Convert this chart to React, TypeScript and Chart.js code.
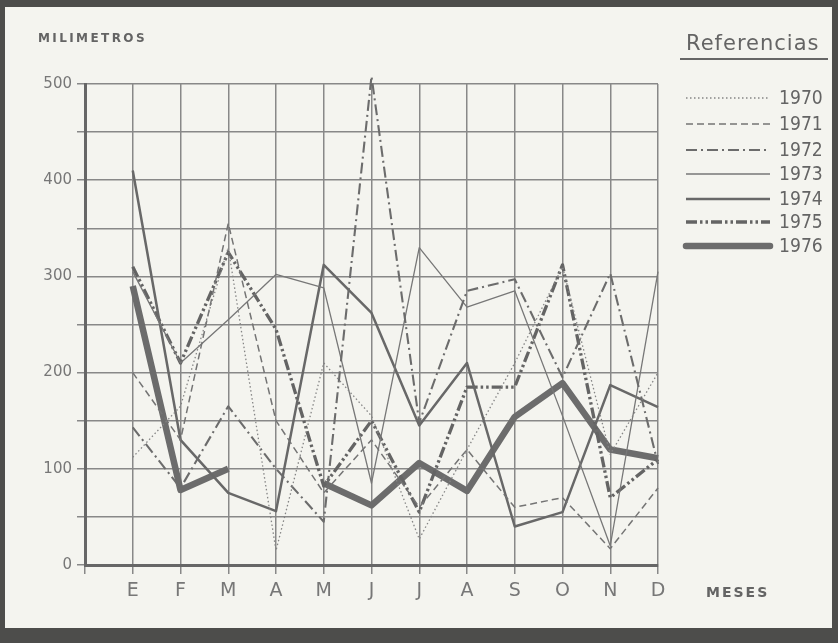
import React, { useEffect, useRef } from "react";
import { Chart, registerables } from "chart.js";

Chart.register(...registerables);

const MONTHS = ["E", "F", "M", "A", "M", "J", "J", "A", "S", "O", "N", "D"];
const Y_TICKS = [0, 100, 200, 300, 400, 500];
const YEARS = ["1970", "1971", "1972", "1973", "1974", "1975", "1976"];

const d1970 = [112, 165, 330, 15, 210, 155, 27, 120, 210, 310, 115, 200];
const d1971 = [200, 130, 355, 150, 75, 130, 60, 120, 60, 70, 17, 80];
const d1972 = [143, 80, 165, 100, 45, 508, 148, 285, 297, 195, 303, 105];
const d1973 = [305, 210, 255, 302, 288, 85, 330, 268, 285, 155, 20, 305];
const d1974 = [410, 130, 75, 56, 312, 262, 145, 210, 40, 55, 187, 164];
const d1975 = [310, 210, 325, 245, 82, 150, 55, 185, 185, 312, 70, 110];
const d1976 = [290, 78, 100, null, 85, 62, 106, 77, 154, 189, 120, 111];

const SERIES = [d1970, d1971, d1972, d1973, d1974, d1975, d1976];

const STYLES = [
  { color: "#858585", width: 1.3, dash: [1.5, 2.5] },
  { color: "#747474", width: 1.5, dash: [7, 4] },
  { color: "#6c6c6c", width: 2.1, dash: [11, 4, 2, 4] },
  { color: "#777777", width: 1.3, dash: [] },
  { color: "#686868", width: 2.5, dash: [] },
  { color: "#646464", width: 3.3, dash: [11, 3, 2.5, 3, 2.5, 3] },
  { color: "#6c6c6c", width: 6.5, dash: [] },
];

const LEGEND_Y = [98, 124, 150, 174, 199, 222, 246];
const TEXT = "#646464";

const decor = {
  id: "decor",
  beforeDraw(chart: any) {
    const { ctx, width, height } = chart;
    ctx.save();
    ctx.fillStyle = "#4d4d4b";
    ctx.fillRect(0, 0, width, height);
    ctx.fillStyle = "#f4f4ef";
    ctx.fillRect(5, 7, width - 11, height - 22);
    ctx.restore();
  },
  afterDraw(chart: any) {
    const { ctx } = chart;
    ctx.save();
    ctx.fillStyle = TEXT;
    ctx.textBaseline = "middle";
    ctx.textAlign = "left";
    ctx.font = "bold 12px 'DejaVu Sans'";
    (ctx as any).letterSpacing = "2.4px";
    ctx.fillText("MILIMETROS", 38, 39);
    ctx.font = "bold 14px 'DejaVu Sans'";
    (ctx as any).letterSpacing = "2px";
    ctx.fillText("MESES", 706, 593);
    (ctx as any).letterSpacing = "1px";
    ctx.font = "21px 'DejaVu Sans'";
    ctx.fillText("Referencias", 686, 45);
    ctx.strokeStyle = "#666";
    ctx.lineWidth = 2;
    ctx.beginPath();
    ctx.moveTo(680, 59);
    ctx.lineTo(828, 59);
    ctx.stroke();
    (ctx as any).letterSpacing = "0px";
    ctx.font = "20px 'DejaVu Sans'";
    YEARS.forEach((yr, i) => {
      const st = STYLES[i];
      const y = LEGEND_Y[i];
      ctx.strokeStyle = st.color;
      ctx.lineWidth = st.width;
      ctx.setLineDash(st.dash);
      ctx.lineCap = i === 6 ? "round" : "butt";
      ctx.beginPath();
      ctx.moveTo(686, y);
      ctx.lineTo(770, y);
      ctx.stroke();
      ctx.setLineDash([]);
      ctx.fillStyle = TEXT;
      ctx.save();
      ctx.translate(779, y + 1);
      ctx.scale(0.86, 1);
      ctx.fillText(yr, 0, 0);
      ctx.restore();
    });
    ctx.restore();
  },
};

export default function App() {
  const ref = useRef<HTMLCanvasElement>(null);
  useEffect(() => {
    if (!ref.current) return;
    const labels = ["", ...MONTHS];
    const chart = new Chart(ref.current, {
      type: "line",
      data: {
        labels,
        datasets: SERIES.map((s, i) => ({
          label: YEARS[i],
          data: [null, ...s],
          borderColor: STYLES[i].color,
          borderWidth: STYLES[i].width,
          borderDash: STYLES[i].dash,
          borderJoinStyle: "round" as const,
          pointRadius: 0,
          tension: 0,
          spanGaps: false,
          fill: false,
          clip: false as any,
        })),
      },
      options: {
        animation: false,
        responsive: false,
        maintainAspectRatio: false,
        layout: { padding: { left: 0, top: 84, right: 180, bottom: 0 } },
        plugins: { legend: { display: false }, tooltip: { enabled: false }, title: { display: false } },
        scales: {
          x: {
            type: "category",
            offset: false,
            afterFit: (s: any) => {
              s.height = 78;
            },
            grid: { color: "#888888", lineWidth: 1.5, tickLength: 9 },
            border: { color: "#666666", width: 3 },
            ticks: {
              color: "#777",
              font: { family: "'DejaVu Sans'", size: 19 },
              padding: 6,
              autoSkip: false,
              maxRotation: 0,
            },
          },
          y: {
            min: 0,
            max: 500,
            afterFit: (s: any) => {
              s.width = 85;
            },
            afterBuildTicks: (s: any) => {
              const t: any[] = [];
              for (let v = 0; v <= 500; v += 50) t.push({ value: v });
              s.ticks = t;
            },
            grid: { color: "#888888", lineWidth: 1.5, tickLength: 8 },
            border: { color: "#666666", width: 3 },
            ticks: {
              color: "#777",
              font: { family: "'DejaVu Sans'", size: 15 },
              padding: 5,
              callback: (v: any) => (Y_TICKS.includes(Number(v)) ? String(v) : ""),
            },
          },
        },
      },
      plugins: [decor],
    });
    return () => chart.destroy();
  }, []);
  return (
    <div style={{ position: "fixed", left: 0, top: 0, width: 838, height: 643 }}>
      <canvas ref={ref} width={838} height={643} style={{ width: 838, height: 643, display: "block" }} />
    </div>
  );
}
